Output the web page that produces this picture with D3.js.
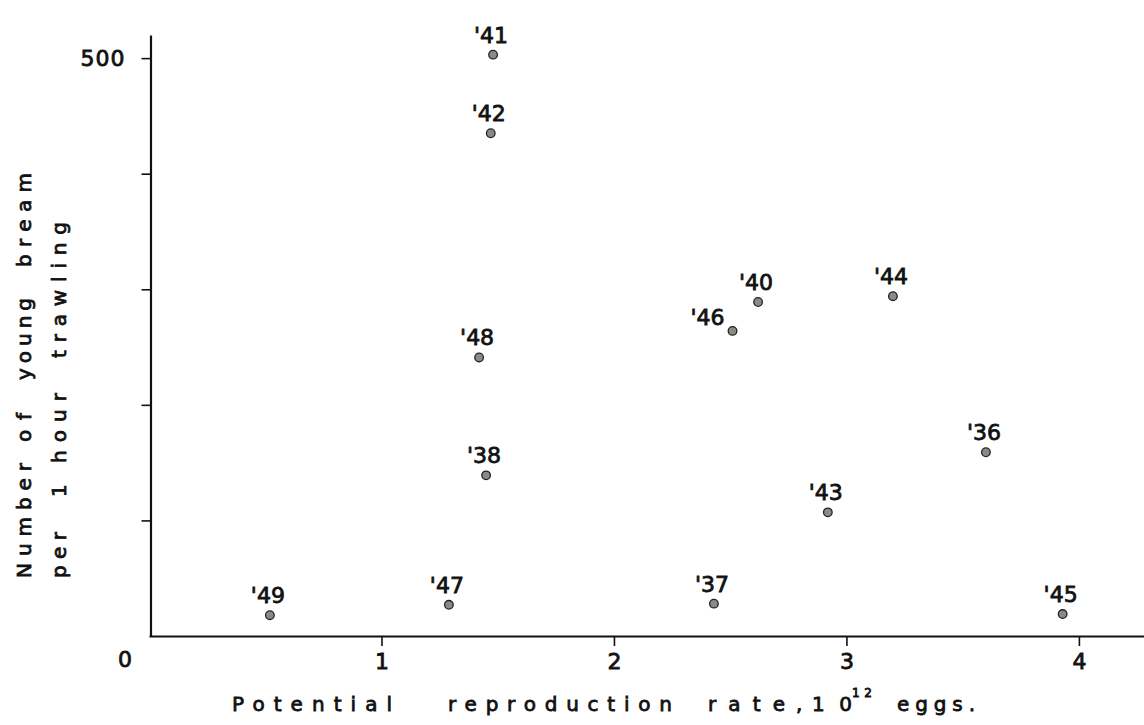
<!DOCTYPE html>
<html>
<head>
<meta charset="utf-8">
<script src="https://cdn.jsdelivr.net/npm/d3@7"></script>
<style>
  html, body { margin: 0; padding: 0; background: #fff; }
  svg { display: block; }
  text { font-family: "DejaVu Sans", sans-serif; fill: #111; stroke: #111; stroke-width: 0.8px; }
</style>
</head>
<body>
<svg id="chart" width="1144" height="725"></svg>
<script>
// Year of each observation (1936–1949)
const years = ["'41", "'42", "'48", "'38", "'49", "'47", "'37", "'45", "'46", "'40", "'44", "'43", "'36"];
// Potential reproduction rate, 10^12 eggs
const eggs = [1.48, 1.47, 1.42, 1.45, 0.52, 1.29, 2.43, 3.93, 2.51, 2.62, 3.20, 2.92, 3.60];
// Number of young bream per 1 hour trawling
const catches = [503, 435, 241, 139, 18, 27, 28, 19, 264, 289, 294, 107, 159];

const xTicks = [1, 2, 3, 4];
const yTicks = [100, 200, 300, 400, 500];
const yTickLabels = ["", "", "", "", "500"];

const svg = d3.select("#chart");

const x = d3.scaleLinear().domain([0, 4.28]).range([149, 1144]);
const y = d3.scaleLinear().domain([0, 520]).range([636, 35]);

// axes
const gx = svg.append("g").attr("transform", `translate(0,${y(0)})`)
  .call(d3.axisBottom(x).tickValues(xTicks).tickSize(10).tickSizeOuter(0)
    .tickPadding(4).tickFormat(d3.format("d")));
const gy = svg.append("g").attr("transform", `translate(${x(0) + 1.5},0)`)
  .call(d3.axisLeft(y).tickValues(yTicks).tickSize(9).tickSizeOuter(0).tickPadding(16)
    .tickFormat((d, i) => yTickLabels[i]));

[gx, gy].forEach(g => {
  g.select(".domain").attr("stroke", "#111").attr("stroke-width", 2.2);
  g.selectAll(".tick line").attr("stroke", "#111").attr("stroke-width", 1.6);
  g.selectAll(".tick text").attr("fill", "#111").style("font-size", "22px")
    .style("font-family", "'DejaVu Sans', sans-serif");
});
gx.selectAll(".tick text").attr("dy", "0.85em");
gy.selectAll(".tick text").attr("dy", "0.35em").attr("letter-spacing", 1);

// origin label
svg.append("text").attr("x", x(0) - 24).attr("y", y(0) + 31)
  .attr("text-anchor", "middle").style("font-size", "22px").text("0");

// points
const data = years.map((t, i) => ({ t, x: eggs[i], y: catches[i] }));

svg.append("g").selectAll("circle").data(data).join("circle")
  .attr("cx", d => x(d.x)).attr("cy", d => y(d.y)).attr("r", 4.3)
  .attr("fill", "#8a8a8a").attr("stroke", "#222").attr("stroke-width", 1.3);

// year labels sit above each point; '46 sits to the left of its point
const labelAt = d => d.t === "'46"
  ? { dx: -8, dy: -6, anchor: "end" }
  : { dx: -2, dy: -12, anchor: "middle" };

svg.append("g").selectAll("text").data(data).join("text")
  .attr("x", d => x(d.x) + labelAt(d).dx)
  .attr("y", d => y(d.y) + labelAt(d).dy)
  .attr("text-anchor", d => labelAt(d).anchor)
  .style("font-size", "22px")
  .text(d => d.t);

// x axis title, word by word with wide lettering
const xWords = [
  { s: "Potential", x0: 232, x1: 392 },
  { s: "reproduction", x0: 448, x1: 672 },
  { s: "rate", x0: 708, x1: 785 },
  { s: ",", x0: 796, x1: 802 },
  { s: "10", x0: 812, x1: 852 },
  { s: "eggs.", x0: 897, x1: 975 }
];
svg.append("g").selectAll("text").data(xWords).join("text")
  .attr("x", d => d.x0).attr("y", 711)
  .attr("textLength", d => d.x1 - d.x0).attr("lengthAdjust", "spacing")
  .style("font-size", "20px").text(d => d.s);
svg.append("text").attr("x", 852).attr("y", 697)
  .attr("textLength", 20).attr("lengthAdjust", "spacing")
  .style("font-size", "12px").text("12");

// y axis title, two rotated lines, word by word
const yWords = [
  { s: "Number", y0: 578, y1: 463, bx: 31 },
  { s: "of", y0: 442, y1: 413, bx: 31 },
  { s: "young", y0: 380, y1: 298, bx: 31 },
  { s: "bream", y0: 267, y1: 173, bx: 31 },
  { s: "per", y0: 578, y1: 532, bx: 66 },
  { s: "1", y0: 497, y1: 482, bx: 66 },
  { s: "hour", y0: 463, y1: 393, bx: 66 },
  { s: "trawling", y0: 358, y1: 222, bx: 66 }
];
svg.append("g").selectAll("text").data(yWords).join("text")
  .attr("transform", d => `translate(${d.bx},${d.y0}) rotate(-90)`)
  .attr("textLength", d => d.y0 - d.y1).attr("lengthAdjust", "spacing")
  .style("font-size", "20px").text(d => d.s);
</script>
</body>
</html>
